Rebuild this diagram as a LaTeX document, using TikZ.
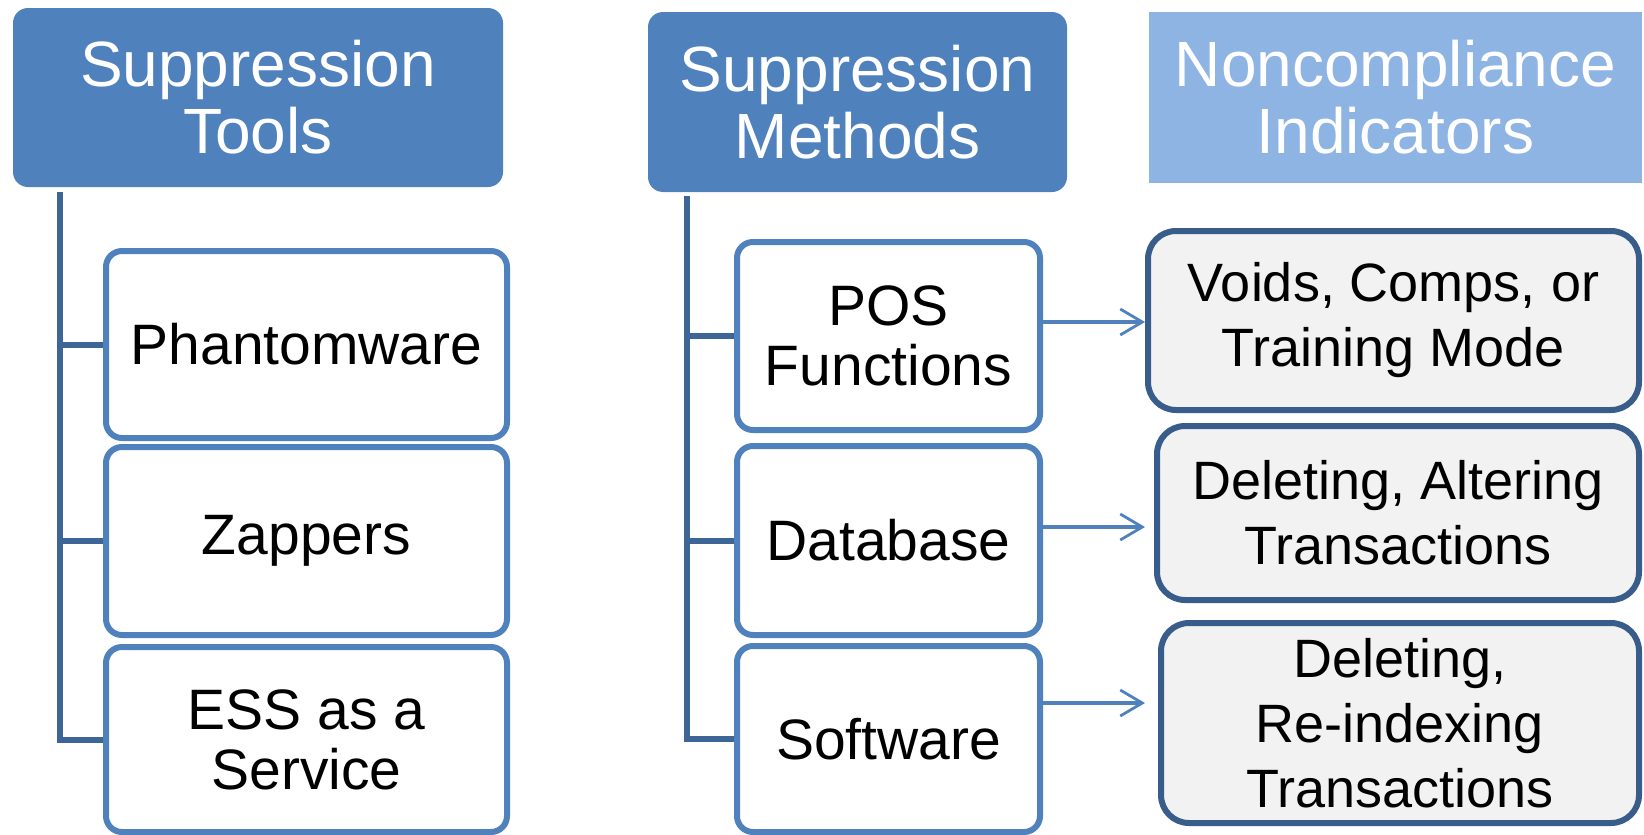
\documentclass[tikz,border=0pt]{standalone}
\usepackage{fontspec}
\setmainfont{Liberation Sans}
\usetikzlibrary{arrows.meta}
\definecolor{hdr}{HTML}{4F81BD}
\definecolor{hdrlight}{HTML}{8EB4E3}
\definecolor{treeln}{HTML}{3D6596}
\definecolor{rbord}{HTML}{385D8A}
\definecolor{rfill}{HTML}{F2F2F2}
\begin{document}
\begin{tikzpicture}[x=0.5pt,y=-0.5pt,
  hdrbox/.style={fill=hdr, rounded corners=7.5pt, text=white, inner sep=0pt,
    font=\fontsize{32}{33.5}\selectfont, align=center},
  hdrlt/.style={fill=hdrlight, text=white, inner sep=0pt,
    font=\fontsize{32}{33.5}\selectfont, align=center},
  itembox/.style={draw=hdr, line width=3pt, fill=white, rounded corners=8pt,
    inner sep=0pt, font=\fontsize{28.5}{30}\selectfont, align=center},
  indbox/.style={draw=rbord, line width=3pt, fill=rfill, rounded corners=14pt,
    inner sep=0pt, font=\fontsize{27}{32.5}\selectfont, align=center},
  treeline/.style={draw=treeln, line width=3pt, line join=miter},
  arr/.style={draw=hdr, line width=2pt,
    -{Straight Barb[length=11pt,width=13pt,line width=1.4pt]}}]
\useasboundingbox (0,0) rectangle (1644,835);

% headers
\node[hdrbox, minimum width=245pt, minimum height=89.5pt] (h1) at (258,97.5) {Suppression\\Tools};
\node[hdrbox, minimum width=209.5pt, minimum height=90pt] (h2) at (857.5,102) {Suppression\\Methods};
\node[hdrlt, minimum width=246.5pt, minimum height=85.5pt] (h3) at (1395.5,97.5) {Noncompliance\\Indicators};

% tools
\node[itembox, minimum width=200.5pt, minimum height=93.5pt] (ph) at (306.5,344.5) {Phantomware};
\node[itembox, minimum width=200.5pt, minimum height=94pt] (zap) at (306.5,541) {Zappers};
\node[itembox, minimum width=200.5pt, minimum height=92.5pt] (ess) at (306.5,739.5) {ESS as a\\Service};

% methods
\node[itembox, minimum width=151.5pt, minimum height=94pt] (pos) at (888.5,336) {POS\\Functions};
\node[itembox, minimum width=151.5pt, minimum height=94.5pt] (db) at (888.5,540.5) {Database};
\node[itembox, minimum width=151.5pt, minimum height=93pt] (sw) at (888.5,739) {Software};

% indicators
\node[indbox, minimum width=245.5pt, minimum height=89.5pt] (vo) at (1393.5,320.5) {Voids, Comps, or\\Training Mode};
\node[indbox, minimum width=241pt, minimum height=87pt] (da) at (1398,513) {Deleting, Altering\\Transactions};
\node[indbox, minimum width=239pt, minimum height=100pt] (dr) at (1400,723) {Deleting,\\Re-indexing\\Transactions};

% tree lines
\coordinate (t1) at (60,192);
\coordinate (t2) at (687,196);
\draw[treeline] (t1) |- (ess.west);
\draw[treeline] (t1 |- ph.west) -- (ph.west);
\draw[treeline] (t1 |- zap.west) -- (zap.west);
\draw[treeline] (t2) |- (sw.west);
\draw[treeline] (t2 |- pos.west) -- (pos.west);
\draw[treeline] (t2 |- db.west) -- (db.west);

% arrows
\coordinate (a1) at (1145,322);
\coordinate (a2) at (1145,527);
\coordinate (a3) at (1145,703);
\draw[arr] (pos.east |- a1) -- (a1);
\draw[arr] (db.east |- a2) -- (a2);
\draw[arr] (sw.east |- a3) -- (a3);
\end{tikzpicture}
\end{document}
